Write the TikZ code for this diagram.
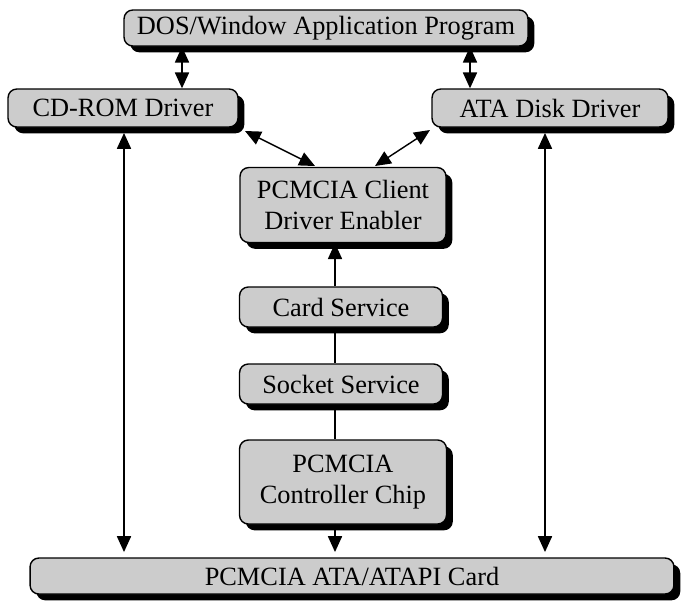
\documentclass[tikz,border=0pt]{standalone}
\usepackage{fontspec}
\setmainfont{Liberation Serif}
\usetikzlibrary{shadows,arrows.meta}
\tikzset{
  blok/.style={draw=black, thick, fill=black!20, rounded corners=5pt, align=center,
    inner sep=0pt, font=\fontsize{15}{18}\selectfont,
    general shadow={fill=black, shadow xshift=3.6pt, shadow yshift=-3.6pt}},
  sip/.style={thick, -{Triangle[length=9pt,width=8pt]}},
  sipy/.style={thick, {Triangle[length=9pt,width=8pt]}-{Triangle[length=9pt,width=8pt]}}
}
\begin{document}
\begin{tikzpicture}[x=0.02cm, y=-0.02cm]
    \useasboundingbox (0,0) rectangle (683,600);

    % Bloky
    \node[blok, minimum width=8.08cm, minimum height=0.72cm] (dos) at (326,28) {DOS/Window Application Program};
    \node[blok, minimum width=4.6cm, minimum height=0.76cm] (cdrom) at (123,108) {CD-ROM Driver};
    \node[blok, minimum width=4.72cm, minimum height=0.76cm] (atadisk) at (550,108) {ATA Disk Driver};
    \node[blok, minimum width=4.12cm, minimum height=1.5cm] (client) at (343,205) {PCMCIA Client\\Driver Enabler};
    \node[blok, minimum width=4.06cm, minimum height=0.8cm] (card) at (341,307) {Card Service};
    \node[blok, minimum width=4.06cm, minimum height=0.8cm] (socket) at (341,384) {Socket Service};
    \node[blok, minimum width=4.14cm, minimum height=1.68cm] (chip) at (343,482) {PCMCIA\\Controller Chip};
    \node[blok, minimum width=12.88cm, minimum height=0.72cm] (atacard) at (352,576) {PCMCIA ATA/ATAPI Card};

    % Pomocne souradnice
    \coordinate (stred) at (335,0);
    \coordinate (levy) at (182,0);
    \coordinate (pravy) at (470,0);
    \coordinate (levydol) at (124,0);
    \coordinate (pravydol) at (545,0);
    \coordinate (cdroh) at (245,131);
    \coordinate (ataroh) at (430,130);
    \coordinate (clL) at (315,166);
    \coordinate (clR) at (375,166);

    % Spojnice
    \draw[sipy] (dos.south -| levy) -- (cdrom.north -| levy);
    \draw[sipy] (dos.south -| pravy) -- (atadisk.north -| pravy);
    \draw[sipy] (cdroh) -- (clL);
    \draw[sipy] (ataroh) -- (clR);
    \draw[sip] (card.north -| stred) -- (client.south -| stred);
    \draw[thick] (card.south -| stred) -- (socket.north -| stred);
    \draw[thick] (socket.south -| stred) -- (chip.north -| stred);
    \draw[sip] (chip.south -| stred) -- ([yshift=3pt]atacard.north -| stred);
    \draw[sipy] ([yshift=-3pt]cdrom.south -| levydol) -- ([yshift=3pt]atacard.north -| levydol);
    \draw[sipy] ([yshift=-3pt]atadisk.south -| pravydol) -- ([yshift=3pt]atacard.north -| pravydol);
\end{tikzpicture}
\end{document}
